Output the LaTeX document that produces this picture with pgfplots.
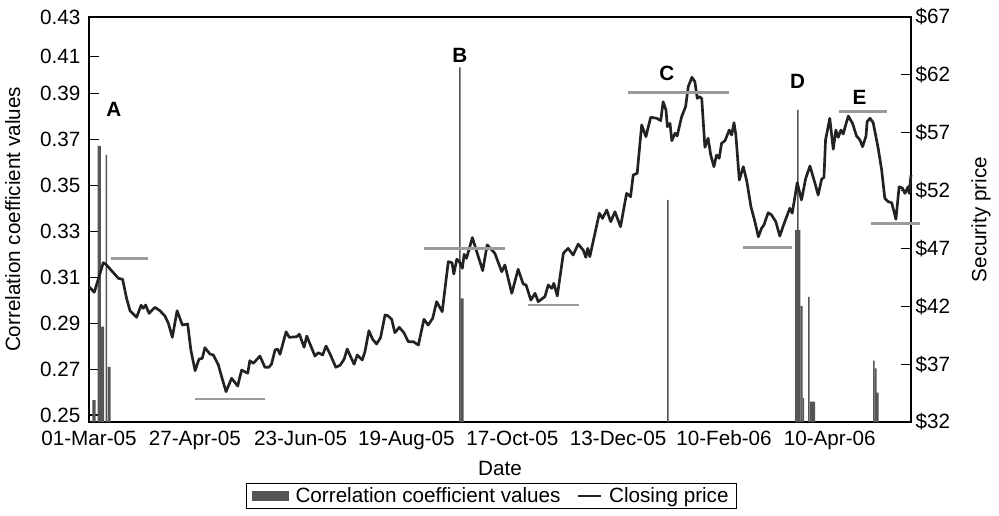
\documentclass[border=0pt]{standalone}
\usepackage{fontspec}
\setmainfont{Liberation Sans}
\usepackage{pgfplots}
\pgfplotsset{compat=1.18}
\usepackage{pgfplotstable}
\definecolor{barcol}{RGB}{85,85,85}
\definecolor{pricecol}{RGB}{34,34,34}
\definecolor{levelcol}{RGB}{155,155,155}
\newcommand{\fs}{\fontsize{15.5}{18}\selectfont}

\pgfplotstableread{
i p
0 43.69
2.0 43.21
5.4 45.77
6.3 45.65
11.1 44.42
12.7 44.33
14.2 42.69
15.5 41.62
18.0 41.05
19.7 42.09
20.5 41.83
21.4 42.11
22.7 41.39
24.9 41.91
26.8 41.62
28.7 41.16
30.0 40.53
31.5 39.32
33.3 41.62
35.3 40.38
37.3 40.47
38.5 38.22
40.1 36.43
41.6 37.44
42.8 37.50
43.8 38.42
45.7 37.88
47.0 37.79
48.9 36.93
50.2 35.86
51.8 34.62
53.9 35.78
56.2 35.11
57.7 36.49
60.0 36.21
60.8 37.30
62.1 37.07
64.6 37.70
66.5 36.73
68.0 36.73
69.0 37.01
70.3 38.22
71.3 38.31
72.2 37.85
74.5 39.80
75.7 39.32
78.5 39.37
79.5 39.60
81.3 38.46
82.3 39.43
85.4 37.70
86.7 37.99
88.3 37.79
89.6 38.57
91.1 37.88
93.3 36.73
94.9 36.90
96.4 37.42
97.6 38.31
98.9 37.64
100.2 36.99
101.4 37.79
103.3 37.36
104.3 38.08
105.8 39.89
107.2 39.15
108.7 38.74
110.2 39.29
111.9 41.25
112.9 41.19
114.4 40.88
115.6 39.72
117.3 40.18
119.0 39.72
120.7 38.94
122.6 38.94
124.5 38.65
126.6 40.88
128.2 40.38
129.9 40.96
131.4 42.40
133.5 41.53
135.8 45.85
137.2 45.77
137.9 44.79
139.0 46.06
139.8 45.94
141.1 45.28
141.8 46.49
142.7 46.15
144.9 47.94
148.8 45.08
150.5 47.30
153.4 46.58
156.0 44.99
157.2 45.57
159.8 43.12
162.2 45.20
164.1 43.93
165.2 43.84
167.0 42.54
168.6 43.12
169.8 42.40
172.3 42.83
173.6 43.84
174.9 43.55
175.7 43.99
177.0 42.89
179.3 46.58
181.1 47.01
183.0 46.43
184.9 47.38
186.8 46.86
187.8 46.23
188.5 47.01
189.3 46.29
192.9 50.04
194.1 49.60
195.7 50.32
197.2 49.31
198.8 50.17
200.9 48.88
203.2 51.76
204.7 51.47
205.7 53.35
207.2 53.49
208.9 57.67
210.5 56.66
212.3 58.33
214.6 58.25
216.1 58.04
217.0 59.68
218.1 58.96
218.6 57.52
219.6 57.81
220.3 56.31
221.5 56.95
222.3 56.72
224.0 58.38
225.5 59.25
226.5 60.98
227.9 61.79
229.0 61.41
229.9 59.97
230.7 60.11
231.6 59.97
232.8 55.74
234.0 56.52
235.0 55.07
236.2 54.06
237.2 55.07
238.2 54.79
239.1 56.09
240.4 56.31
242.0 57.23
242.9 56.80
243.8 57.87
244.5 56.80
245.8 52.91
247.3 54.06
248.6 52.85
250.2 50.61
251.7 49.31
253.0 48.01
254.2 48.74
255.1 49.02
256.7 50.09
258.0 49.89
259.6 49.31
261.1 48.07
262.4 48.94
263.7 49.74
264.9 50.47
265.8 50.04
267.7 52.68
269.3 51.19
270.9 53.06
272.5 54.12
274.4 52.63
275.6 51.62
276.9 52.97
277.8 53.15
278.4 56.37
280.0 58.25
281.3 55.57
282.3 57.23
283.2 56.60
284.2 57.23
285.1 56.89
286.0 57.67
287.0 58.44
288.6 57.81
290.1 56.72
291.4 56.37
292.4 55.79
293.7 56.72
294.1 57.95
295.2 58.25
296.4 57.87
298.3 55.65
299.6 53.78
300.8 51.33
302.1 51.04
303.4 50.95
305.0 49.52
306.2 52.33
307.5 52.20
308.4 51.76
309.6 52.33
310.0 51.76
310.7 53.35
}\pricetable

\begin{document}
\begin{tikzpicture}
\pgfplotsset{every axis/.append style={
  width=616.5pt, height=303.75pt, scale only axis,
  xmin=0, xmax=310.7,
  tick align=inside, major tick length=7.5pt,
  tick label style={font=\fs},
  label style={font=\fs},
  axis line style={line width=0.8pt, black},
  every tick/.style={black, line width=0.8pt},
  /pgf/number format/assume math mode=true,
}}
% --- correlation coefficient bars (left axis)
\begin{axis}[
  name=ax,
  ymin=0.24695, ymax=0.4234,
  xtick={0,40,80,120,160,200,240,280},
  xticklabels={01-Mar-05,27-Apr-05,23-Jun-05,19-Aug-05,17-Oct-05,13-Dec-05,10-Feb-06,10-Apr-06},
  x tick style={draw=none},
  xticklabel shift=3pt,
  ytick={0.25,0.27,0.29,0.31,0.33,0.35,0.37,0.39,0.4061,0.4234},
  yticklabels={0.25,0.27,0.29,0.31,0.33,0.35,0.37,0.39,0.41,0.43},
  yticklabel shift=3pt,
  ytick pos=left,
  xlabel={Date},
  xlabel shift=2pt,
  ylabel={Correlation coefficient values},
  ylabel shift=8pt,
]
\addplot[ybar, bar width=2.0, fill=barcol, draw=none] coordinates {(267.9,0.3306) (273.5,0.2558)};
\addplot[ybar, bar width=1.2, fill=barcol, draw=none] coordinates {(1.9,0.2565) (3.9,0.3672) (5.1,0.2885) (7.6,0.2710) (141.0,0.3008)};
\addplot[ybar, bar width=0.8, fill=barcol, draw=none] coordinates {(269.3,0.2975) (297.3,0.2703) (298.1,0.2597)};
\addplot[ybar, bar width=0.55, fill=barcol, draw=none] coordinates {(6.6,0.3633) (140.2,0.4015) (218.8,0.3437) (267.9,0.3829) (270.0,0.2573) (272.1,0.3015) (296.7,0.2737)};
\end{axis}
% --- closing price (right axis)
\begin{axis}[
  ymin=32, ymax=67,
  axis x line=none,
  axis y line*=right,
  ytick={32,37,42,47,52,57,62,67},
  yticklabels={\$32,\$37,\$42,\$47,\$52,\$57,\$62,\$67},
  ylabel={Security price},
  ylabel shift=9pt,
  clip=false,
  legend columns=2,
  legend style={at={(0.4897,-0.1506)}, anchor=north, draw=black, line width=0.8pt, font=\fs,
    inner xsep=4pt, inner ysep=1pt,
    /tikz/every odd column/.append style={column sep=3pt},
    /tikz/every even column/.append style={column sep=10pt}},
]
\addlegendimage{legend image code/.code={\fill[barcol] (0cm,-0.13cm) rectangle (0.95cm,0.13cm);}}
\addlegendentry{Correlation coefficient values}
\addplot[pricecol, line width=2pt, line join=round,
  legend image code/.code={\draw[pricecol, line width=1.8pt] (0cm,0cm) -- (0.62cm,0cm);}]
  table[x=i, y=p] {\pricetable};
\addlegendentry{Closing price}
\addplot[levelcol, line width=2pt, forget plot] coordinates {(8.3,46.14) (22.2,46.14)};
\addplot[levelcol, line width=2pt, forget plot] coordinates {(40.1,33.99) (66.5,33.99)};
\addplot[levelcol, line width=2pt, forget plot] coordinates {(126.7,47.01) (157.3,47.01)};
\addplot[levelcol, line width=2pt, forget plot] coordinates {(166.0,42.11) (185.2,42.11)};
\addplot[levelcol, line width=2pt, forget plot] coordinates {(203.8,60.46) (242.0,60.46)};
\addplot[levelcol, line width=2pt, forget plot] coordinates {(247.3,47.10) (265.9,47.10)};
\addplot[levelcol, line width=2pt, forget plot] coordinates {(283.3,58.82) (301.8,58.82)};
\addplot[levelcol, line width=2pt, forget plot] coordinates {(295.4,49.17) (314.1,49.17)};
\node[font=\fs\bfseries] at (axis cs:9.4,59.0) {A};
\node[font=\fs\bfseries] at (axis cs:140.2,63.72) {B};
\node[font=\fs\bfseries] at (axis cs:218.4,62.1) {C};
\node[font=\fs\bfseries] at (axis cs:267.8,61.4) {D};
\node[font=\fs\bfseries] at (axis cs:291.2,60.05) {E};
\end{axis}
\pgfresetboundingbox
\path[use as bounding box] (ax.south west) ++(-66.75pt,-69.75pt) rectangle ++(749.25pt,386.25pt);
\end{tikzpicture}
\end{document}
